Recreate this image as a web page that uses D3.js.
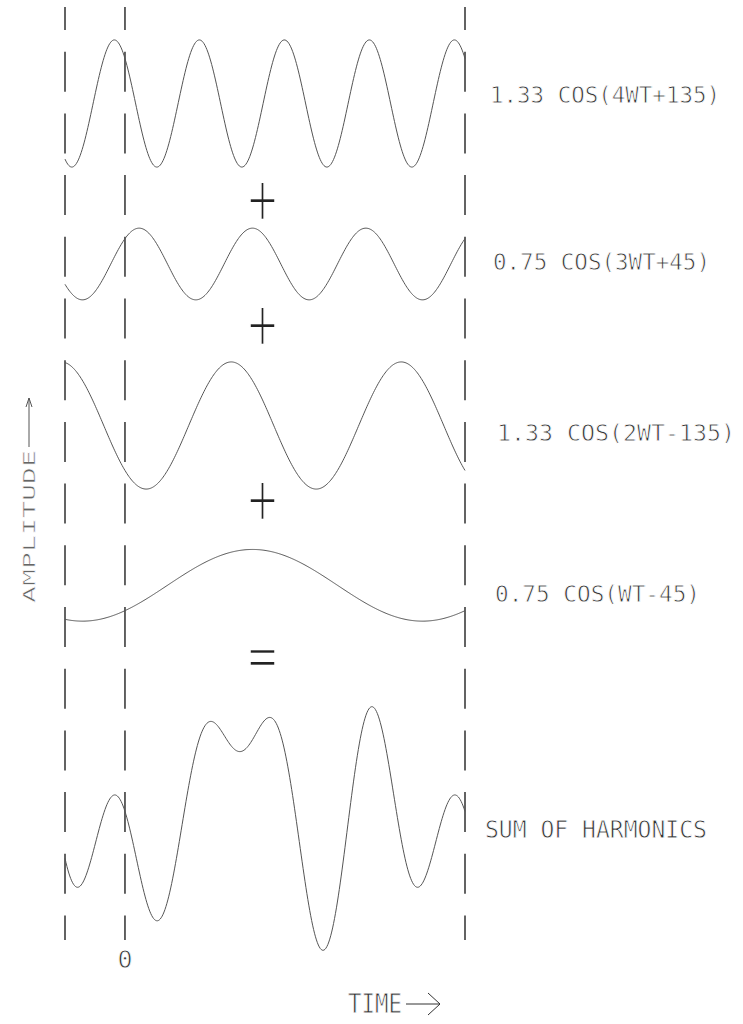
<!DOCTYPE html>
<meta charset="utf-8">
<script src="https://d3js.org/d3.v7.min.js"></script>
<style>
  body { margin: 0; background: #fff; }
  svg text { font-family: "DejaVu Sans Mono", monospace; }
</style>
<div id="chart"></div>
<script>

  // harmonic components, top to bottom
  const labels     = ["1.33 COS(4WT+135)", "0.75 COS(3WT+45)", "1.33 COS(2WT-135)", "0.75 COS(WT-45)"];
  const amplitudes = [1.33, 0.75, 1.33, 0.75];
  const harmonics  = [4, 3, 2, 1];
  const phases     = [135, 45, -135, -45];   // degrees
  const operators  = ["+", "+", "+", "="];
  const sumLabel   = "SUM OF HARMONICS";

  // time axis in degrees of the fundamental (WT)
  const timeStart = -63.5, timeEnd = 360;
  const timeMarks = [timeStart, 0, timeEnd];   // dashed verticals
  const zeroLabel = "0";
  const nSamples = 420;

  // layout: x, baseline, text length, font size
  const width = 743, height = 1024;
  const baselines = [103.5, 264, 425.5, 585.3, 811.4];
  const labelPos = [[490, 103, 230, 23], [493, 270, 217, 23], [497, 441, 238, 23], [495, 602, 205, 23], [485, 838, 222, 25]];
  const opY = [199, 324, 499, 655];

  const svg = d3.select("#chart")
    .append("svg")
      .attr("width", width)
      .attr("height", height);

  const x = d3.scaleLinear().domain([timeStart, timeEnd]).range([65, 465]);
  const y = d3.scaleLinear().domain([-1, 1]).range([47.8, -47.8]);

  const times = d3.range(nSamples + 1).map(i => timeStart + i * (timeEnd - timeStart) / nSamples);
  const rad = Math.PI / 180;

  // the original plot traces each term as a sine of (n*WT + phase)
  const component = (k, t) => amplitudes[k] * Math.sin((harmonics[k] * t + phases[k]) * rad);
  const series = harmonics.map((h, k) => times.map(t => ({t: t, v: component(k, t)})));
  series.push(times.map(t => ({t: t, v: d3.sum(harmonics, (h, k) => component(k, t))})));

  const line = d3.line()
    .x(d => x(d.t))
    .y(d => y(d.v));

  // dashed time markers
  svg.selectAll(".marker")
    .data(timeMarks)
    .join("line")
      .attr("class", "marker")
      .attr("x1", d => x(d)).attr("x2", d => x(d))
      .attr("y1", 7).attr("y2", 940)
      .attr("stroke", "#222")
      .attr("stroke-width", 1.4)
      .attr("stroke-dasharray", "40 21.7")
      .attr("stroke-dashoffset", 17);

  // waves
  svg.selectAll(".wave")
    .data(series)
    .join("path")
      .attr("class", "wave")
      .attr("transform", (d, i) => `translate(0,${baselines[i]})`)
      .attr("d", line)
      .attr("fill", "none")
      .attr("stroke", "#555")
      .attr("stroke-width", 1);

  // labels (white stroke thins the glyphs to a plotter-pen look)
  const allLabels = labels.concat([sumLabel]);
  svg.selectAll(".label")
    .data(allLabels)
    .join("text")
      .attr("class", "label")
      .attr("x", (d, i) => labelPos[i][0])
      .attr("y", (d, i) => labelPos[i][1])
      .attr("textLength", (d, i) => labelPos[i][2])
      .attr("lengthAdjust", "spacingAndGlyphs")
      .attr("font-size", (d, i) => labelPos[i][3])
      .attr("fill", "#333")
      .attr("stroke", "#fff")
      .attr("stroke-width", 0.8)
      .text(d => d);

  // operators between the rows
  svg.selectAll(".op")
    .data(operators)
    .join("text")
      .attr("class", "op")
      .attr("transform", (d, i) => `translate(262.5,${opY[i]}) scale(1,1.5)`)
      .attr("text-anchor", "middle")
      .attr("dy", "0.35em")
      .attr("font-size", 40)
      .style("font-family", "'DejaVu Sans'")
      .attr("fill", "#222")
      .attr("stroke", "#fff")
      .attr("stroke-width", 1.5)
      .text(d => d);

  // time zero label
  svg.append("text")
    .attr("x", x(0))
    .attr("y", 968)
    .attr("text-anchor", "middle")
    .attr("font-size", 25)
    .attr("fill", "#333")
    .attr("stroke", "#fff")
    .attr("stroke-width", 0.8)
    .text(zeroLabel);

  // axis titles
  svg.append("text")
    .attr("x", 348)
    .attr("y", 1013)
    .attr("textLength", 54)
    .attr("lengthAdjust", "spacingAndGlyphs")
    .attr("font-size", 27)
    .attr("fill", "#333")
    .attr("stroke", "#fff")
    .attr("stroke-width", 0.8)
    .text("TIME");
  svg.append("path")
    .attr("d", "M406,1004H440M428,993L440,1004L428,1015")
    .attr("fill", "none")
    .attr("stroke", "#333")
    .attr("stroke-width", 1);

  svg.append("text")
    .attr("transform", "translate(35,603) rotate(-90)")
    .attr("textLength", 153)
    .attr("lengthAdjust", "spacingAndGlyphs")
    .attr("font-size", 16)
    .attr("fill", "#666")
    .attr("stroke", "#fff")
    .attr("stroke-width", 0.5)
    .text("AMPLITUDE");
  svg.append("path")
    .attr("d", "M29,447V398M26,407L29,398L32,407")
    .attr("fill", "none")
    .attr("stroke", "#555")
    .attr("stroke-width", 1);

</script>
